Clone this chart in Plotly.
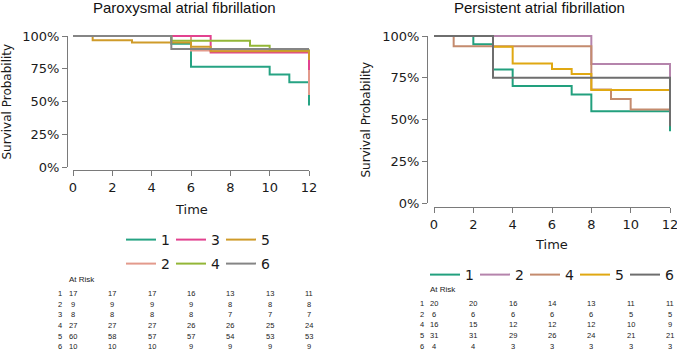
import plotly.graph_objects as go

W, H = 677, 351

# ---------------- data: Paroxysmal atrial fibrillation ----------------
par_groups = ["1", "2", "3", "4", "5", "6"]
par_t1 = [0, 5, 6, 10, 11, 12]
par_s1 = [1.0, 0.941, 0.765, 0.706, 0.647, 0.47]
par_t2 = [0, 6, 12]
par_s2 = [1.0, 0.889, 0.55]
par_t3 = [0, 7, 12]
par_s3 = [1.0, 0.875, 0.74]
par_t4 = [0, 5, 9, 10, 12]
par_s4 = [1.0, 0.963, 0.926, 0.889, 0.85]
par_t5 = [0, 1, 3, 6, 7, 12]
par_s5 = [1.0, 0.967, 0.95, 0.917, 0.883, 0.817]
par_t6 = [0, 5, 12]
par_s6 = [1.0, 0.90, 0.90]
par_colors = ["#26a383", "#e39a8c", "#e2428f", "#93b637", "#cf9b2a", "#858585"]

# ---------------- data: Persistent atrial fibrillation ----------------
per_groups = ["1", "2", "4", "5", "6"]
per_t1 = [0, 2, 3, 4, 7, 8, 12]
per_s1 = [1.0, 0.95, 0.80, 0.70, 0.65, 0.55, 0.43]
per_t2 = [0, 8, 12]
per_s2 = [1.0, 0.833, 0.667]
per_t4 = [0, 1, 8, 9, 10, 12]
per_s4 = [1.0, 0.938, 0.68, 0.623, 0.56, 0.56]
per_t5 = [0, 3, 4, 6, 7, 8, 12]
per_s5 = [1.0, 0.935, 0.836, 0.802, 0.772, 0.677, 0.677]
per_t6 = [0, 3, 12]
per_s6 = [1.0, 0.75, 0.46]
per_colors = ["#22a07e", "#b584ac", "#c48b6e", "#e0a812", "#6e6e6e"]

# ---------------- at-risk tables ----------------
risk_times = [0, 2, 4, 6, 8, 10, 12]
par_risk1 = [17, 17, 17, 16, 13, 13, 11]
par_risk2 = [9, 9, 9, 9, 8, 8, 8]
par_risk3 = [8, 8, 8, 8, 7, 7, 7]
par_risk4 = [27, 27, 27, 26, 26, 25, 24]
par_risk5 = [60, 58, 57, 57, 54, 53, 53]
par_risk6 = [10, 10, 10, 9, 9, 9, 9]
per_risk1 = [20, 20, 16, 14, 13, 11, 11]
per_risk2 = [6, 6, 6, 6, 6, 5, 5]
per_risk4 = [16, 15, 12, 12, 12, 10, 9]
per_risk5 = [31, 31, 29, 26, 24, 21, 21]
per_risk6 = [4, 4, 3, 3, 3, 3, 3]

x_ticks = [0, 2, 4, 6, 8, 10, 12]
y_ticks = [0, 0.25, 0.5, 0.75, 1.0]
y_ticktext = ["0%", "25%", "50%", "75%", "100%"]

par_curves = [(par_t1, par_s1), (par_t2, par_s2), (par_t3, par_s3),
              (par_t4, par_s4), (par_t5, par_s5), (par_t6, par_s6)]
per_curves = [(per_t1, per_s1), (per_t2, per_s2), (per_t4, per_s4),
              (per_t5, per_s5), (per_t6, per_s6)]
par_risk = [par_risk1, par_risk2, par_risk3, par_risk4, par_risk5, par_risk6]
per_risk = [per_risk1, per_risk2, per_risk4, per_risk5, per_risk6]


def px(x):
    return x / W


def py(y):
    return 1 - y / H


# pixel layout of the two panels
panels = [
    dict(x0=73, x1=309, ytop=36, ybot=167, xline=170, yline=67),
    dict(x0=434, x1=670, ytop=36, ybot=203, xline=207, yline=427),
]

fig = go.Figure()
layout_axes = {}
XPAD, YPAD = 0.25, 0.02
for k, p in enumerate(panels):
    sx = (p["x1"] - p["x0"]) / 12.0
    sy = (p["ybot"] - p["ytop"]) / 1.0
    dx = "xaxis" if k == 0 else "xaxis2"
    dy = "yaxis" if k == 0 else "yaxis2"
    vx = "xaxis3" if k == 0 else "xaxis4"
    vy = "yaxis3" if k == 0 else "yaxis4"
    layout_axes[dx] = dict(domain=[px(p["x0"] - XPAD * sx), px(p["x1"] + XPAD * sx)],
                           range=[-XPAD, 12 + XPAD], visible=False,
                           anchor="y" if k == 0 else "y2")
    layout_axes[dy] = dict(domain=[py(p["ybot"] + YPAD * sy), py(p["ytop"] - YPAD * sy)],
                           range=[-YPAD, 1 + YPAD], visible=False,
                           anchor="x" if k == 0 else "x2")
    common = dict(showline=True, linecolor="#7a7a7a", linewidth=1, ticks="outside",
                  ticklen=5, tickwidth=1, tickcolor="#7a7a7a", showgrid=False,
                  zeroline=False, anchor="free", ticklabeloverflow="allow",
                  tickfont=dict(family="DejaVu Sans", size=13, color="#1a1a1a"))
    layout_axes[vx] = dict(domain=[px(p["x0"]), px(p["x1"])], range=[0, 12],
                           tickvals=x_ticks, position=py(p["xline"]), **common)
    layout_axes[vy] = dict(domain=[py(p["ybot"]), py(p["ytop"])], range=[0, 1],
                           tickvals=y_ticks, ticktext=y_ticktext,
                           position=px(p["yline"]), **common)

# invisible traces so the display axes are drawn (added first, below the curves)
for xa, ya in (("x3", "y3"), ("x4", "y4")):
    fig.add_trace(go.Scatter(x=[0, 12], y=[0, 1], xaxis=xa, yaxis=ya, mode="markers",
                             marker=dict(opacity=0), showlegend=False, hoverinfo="skip"))
# survival curves, left panel
for i, (g, (t, s)) in enumerate(zip(par_groups, par_curves)):
    fig.add_trace(go.Scatter(
        x=t, y=s, mode="lines", line=dict(shape="hv", width=2, color=par_colors[i]),
        name=g, xaxis="x", yaxis="y",
        legend="legend" if g in ("1", "3", "5") else "legend2",
        hoverinfo="skip"))
# survival curves, right panel
for i, (g, (t, s)) in enumerate(zip(per_groups, per_curves)):
    fig.add_trace(go.Scatter(
        x=t, y=s, mode="lines", line=dict(shape="hv", width=2, color=per_colors[i]),
        name=g, xaxis="x2", yaxis="y2", legend="legend3", hoverinfo="skip"))

ann = []
title_font = dict(family="Liberation Sans", size=15, color="#111111")
label_font = dict(family="DejaVu Sans", size=13, color="#1a1a1a")
ann.append(dict(text="Paroxysmal atrial fibrillation", x=px(184), y=py(8), xref="paper",
                yref="paper", showarrow=False, font=title_font, xanchor="center", yanchor="middle"))
ann.append(dict(text="Persistent atrial fibrillation", x=px(539), y=py(8), xref="paper",
                yref="paper", showarrow=False, font=title_font, xanchor="center", yanchor="middle"))
for xc, yc in ((7, 101.5), (366, 119.5)):
    ann.append(dict(text="Survival Probability", x=px(xc), y=py(yc), xref="paper", yref="paper",
                    showarrow=False, textangle=-90, font=dict(family="DejaVu Sans", size=12, color="#1a1a1a"),
                    xanchor="center", yanchor="middle"))
for xc, yc in ((191, 209), (551, 244)):
    ann.append(dict(text="Time", x=px(xc), y=py(yc), xref="paper", yref="paper",
                    showarrow=False, font=label_font, xanchor="center", yanchor="middle"))

risk_font = dict(family="Liberation Sans", size=7.5, color="#222222")
tables = [
    dict(groups=par_groups, risk=par_risk, xa="x3", lab_x=60, head=(67, 279), row0=293.3, dy=10.7),
    dict(groups=per_groups, risk=per_risk, xa="x4", lab_x=422, head=(428, 289), row0=303.3, dy=10.75),
]
for tb in tables:
    ann.append(dict(text="At Risk", x=px(tb["head"][0]), y=py(tb["head"][1]), xref="paper",
                    yref="paper", showarrow=False, font=dict(family="Liberation Sans", size=8, color="#222222"),
                    xanchor="left", yanchor="middle"))
    for r, (g, vals) in enumerate(zip(tb["groups"], tb["risk"])):
        yy = py(tb["row0"] + r * tb["dy"])
        ann.append(dict(text=g, x=px(tb["lab_x"]), y=yy, xref="paper", yref="paper",
                        showarrow=False, font=risk_font, xanchor="center", yanchor="middle"))
        for tt, v in zip(risk_times, vals):
            ann.append(dict(text=str(v), x=tt, y=yy, xref=tb["xa"], yref="paper",
                            showarrow=False, font=risk_font, xanchor="center", yanchor="middle"))

leg_common = dict(orientation="h", xanchor="center", yanchor="middle", bgcolor="rgba(0,0,0,0)",
                  font=dict(family="DejaVu Sans", size=14, color="#1a1a1a"), itemwidth=30,
                  traceorder="normal", entrywidth=5, entrywidthmode="pixels")

fig.update_layout(
    width=W, height=H,
    margin=dict(l=0, r=0, t=0, b=0, pad=0, autoexpand=False),
    paper_bgcolor="white", plot_bgcolor="rgba(0,0,0,0)",
    showlegend=True,
    legend=dict(x=px(196), y=py(240), **leg_common),
    legend2=dict(x=px(196), y=py(264), **leg_common),
    legend3=dict(x=px(550), y=py(275), **leg_common),
    annotations=ann,
    **layout_axes,
)

fig.write_html("out.html")
